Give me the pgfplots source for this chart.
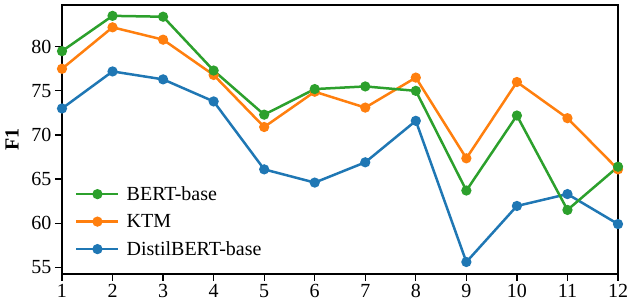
\documentclass[border=0pt]{standalone}
\usepackage{pgfplots}
\pgfplotsset{compat=1.18}
\usepackage{fontspec}
\setmainfont{Liberation Serif}
\definecolor{tabblue}{HTML}{1F77B4}
\definecolor{taborange}{HTML}{FF7F0E}
\definecolor{tabgreen}{HTML}{2CA02C}
\begin{document}
\begin{tikzpicture}
\useasboundingbox (-62pt,-33pt) rectangle (569pt,274pt);
\begin{axis}[
  scale only axis,
  width=556pt, height=269pt,
  xmin=1, xmax=12, ymin=54.24, ymax=84.73,
  xtick={1,...,12}, ytick={55,60,65,70,75,80},
  /pgf/number format/assume math mode=true,
  tick label style={font=\fontsize{20}{24}\selectfont},
  tick align=outside, tick pos=left,
  major tick length=7pt,
  every tick/.style={black, line width=1.3pt},
  axis line style={line width=1.3pt},
  every axis y label/.style={at={(ticklabel cs:0.5,6pt)}, rotate=90, anchor=south, font=\fontsize{20}{24}\selectfont\bfseries},
  ylabel={F1},
  every axis plot/.append style={line width=2.5pt, mark=*, mark size=3.8pt},
  reverse legend,
  legend style={draw=none, fill=none, at={(0.0,0.0)}, anchor=south west,
    font=\fontsize{20}{24}\selectfont, row sep=8.5pt, column sep=5pt, xshift=10pt, yshift=13pt},
  legend cell align=left,
  legend image code/.code={\draw[mark repeat=2, mark phase=2] plot coordinates {(0pt,0pt) (21pt,0pt) (42pt,0pt)};},
]
\addplot[tabblue, mark options={fill=tabblue}] coordinates {
(1,73.0) (2,77.2) (3,76.3) (4,73.8) (5,66.1) (6,64.6) (7,66.9) (8,71.6) (9,55.6) (10,61.95) (11,63.3) (12,59.9)};
\addlegendentry{DistilBERT-base}
\addplot[taborange, mark options={fill=taborange}] coordinates {
(1,77.5) (2,82.2) (3,80.8) (4,76.8) (5,70.9) (6,74.9) (7,73.1) (8,76.5) (9,67.35) (10,76.0) (11,71.9) (12,66.1)};
\addlegendentry{KTM}
\addplot[tabgreen, mark options={fill=tabgreen}] coordinates {
(1,79.5) (2,83.5) (3,83.4) (4,77.3) (5,72.3) (6,75.2) (7,75.5) (8,75.0) (9,63.7) (10,72.2) (11,61.5) (12,66.4)};
\addlegendentry{BERT-base}
\end{axis}
\end{tikzpicture}
\end{document}
